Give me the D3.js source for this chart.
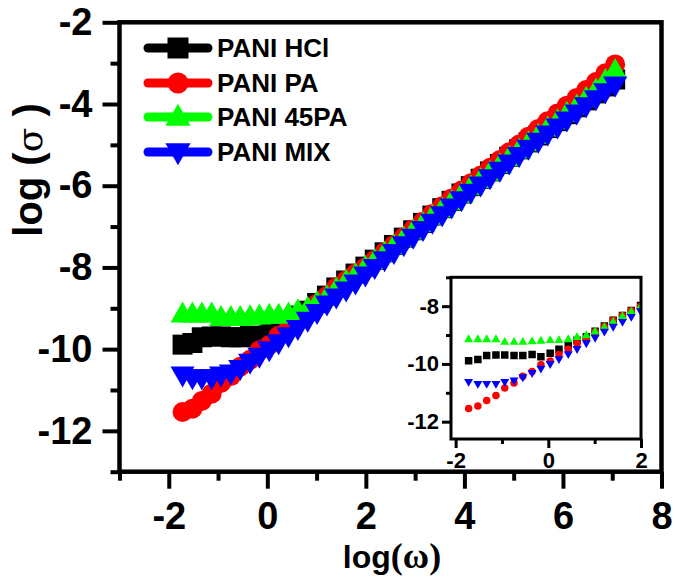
<!DOCTYPE html>
<html>
<head>
<meta charset="utf-8">
<script src="https://cdn.jsdelivr.net/npm/d3@7"></script>
<style>
  html, body { margin: 0; padding: 0; background: #fff; }
  svg { display: block; font-family: "Liberation Sans", Arial, sans-serif; font-weight: bold; }
</style>
</head>
<body>
<svg id="chart" width="675" height="581"></svg>
<script>
// log(omega) values shared by all four samples
const logW = [-1.72, -1.52, -1.33, -1.13, -0.94, -0.74, -0.55, -0.35, -0.16, 0.04,
  0.23, 0.43, 0.62, 0.82, 1.01, 1.21, 1.40, 1.60, 1.79, 1.99,
  2.18, 2.38, 2.57, 2.77, 2.96, 3.16, 3.35, 3.55, 3.74, 3.94,
  4.13, 4.33, 4.52, 4.72, 4.91, 5.11, 5.30, 5.50, 5.69, 5.89,
  6.08, 6.28, 6.47, 6.67, 6.86, 7.06];

const hcl = [-9.89, -9.85, -9.71, -9.69, -9.69, -9.71, -9.71, -9.67, -9.75, -9.63,
  -9.49, -9.35, -9.18, -9.06, -8.87, -8.69, -8.49, -8.32, -8.15, -7.98,
  -7.81, -7.63, -7.45, -7.27, -7.09, -6.91, -6.73, -6.55, -6.37, -6.19,
  -6.01, -5.83, -5.65, -5.47, -5.29, -5.11, -4.94, -4.77, -4.59, -4.42,
  -4.25, -4.08, -3.91, -3.74, -3.57, -3.40];

const pa = [-11.54, -11.46, -11.27, -11.09, -10.83, -10.66, -10.43, -10.26, -10.03, -9.90,
  -9.67, -9.49, -9.29, -9.14, -8.89, -8.70, -8.49, -8.32, -8.15, -8.00,
  -7.82, -7.63, -7.45, -7.26, -7.07, -6.88, -6.69, -6.50, -6.31, -6.12,
  -5.94, -5.75, -5.56, -5.37, -5.18, -4.99, -4.80, -4.61, -4.42, -4.23,
  -4.04, -3.85, -3.66, -3.46, -3.25, -3.03];

const pa45 = [-9.14, -9.14, -9.14, -9.14, -9.23, -9.23, -9.23, -9.21, -9.19, -9.17,
  -9.17, -9.14, -9.06, -9.00, -8.87, -8.72, -8.53, -8.34, -8.18, -8.00,
  -7.83, -7.65, -7.47, -7.29, -7.11, -6.93, -6.75, -6.57, -6.39, -6.21,
  -6.03, -5.85, -5.67, -5.49, -5.31, -5.13, -4.95, -4.77, -4.59, -4.41,
  -4.23, -4.05, -3.86, -3.66, -3.43, -3.18];

const mix = [-10.63, -10.70, -10.70, -10.70, -10.63, -10.58, -10.47, -10.32, -10.17, -10.01,
  -9.84, -9.67, -9.49, -9.29, -9.10, -8.89, -8.72, -8.55, -8.38, -8.18,
  -8.00, -7.81, -7.63, -7.44, -7.26, -7.07, -6.89, -6.71, -6.52, -6.34,
  -6.16, -5.98, -5.80, -5.62, -5.44, -5.26, -5.08, -4.91, -4.73, -4.56,
  -4.39, -4.22, -4.04, -3.87, -3.70, -3.53];

const names = ["PANI HCl", "PANI PA", "PANI 45PA", "PANI MIX"];
const colors = ["#000000", "#ff0000", "#00ff00", "#0000ff"];
const shapes = ["square", "circle", "up", "down"];
const series = [hcl, pa, pa45, mix];

const xTicks = [-2, 0, 2, 4, 6, 8];
const xMinor = [-3, -1, 1, 3, 5, 7];
const yTicks = [-12, -10, -8, -6, -4, -2];
const yMinor = [-13, -11, -9, -7, -5, -3];
const insetXTicks = [-2, 0, 2];
const insetXMinor = [-1, 1];
const insetYTicks = [-12, -10, -8];
const insetYMinor = [-11, -9, -7];

const svg = d3.select("#chart");

function marker(shape, s) {
  // s = overall marker width in px
  if (shape === "square") return `M${-s / 2},${-s / 2}h${s}v${s}h${-s}Z`;
  if (shape === "circle") return d3.symbol(d3.symbolCircle, Math.PI * s * s / 4)();
  const w = s * 1.2, h = s * 1.05;
  if (shape === "up") return `M0,${-h * 0.6}L${w / 2},${h * 0.4}L${-w / 2},${h * 0.4}Z`;
  return `M0,${h * 0.6}L${w / 2},${-h * 0.4}L${-w / 2},${-h * 0.4}Z`;
}

function panel(g, o) {
  const x = d3.scaleLinear().domain(o.xDomain).range([o.left, o.right]);
  const y = d3.scaleLinear().domain(o.yDomain).range([o.bottom, o.top]);

  const xAxis = d3.axisBottom(x).tickValues(o.xTicks).tickSize(o.major).tickPadding(o.padX)
    .tickFormat((d) => String(d));
  const xAxisMinor = d3.axisBottom(x).tickValues(o.xMinor).tickSize(o.minor).tickFormat("");
  const yAxis = d3.axisLeft(y).tickValues(o.yTicks).tickSize(o.major).tickPadding(o.padY)
    .tickFormat((d) => String(d));
  const yAxisMinor = d3.axisLeft(y).tickValues(o.yMinor).tickSize(o.minor).tickFormat("");

  const style = (a) => {
    a.select(".domain").remove();
    a.selectAll("line").attr("stroke", "#000").attr("stroke-width", o.tickWidth);
    a.selectAll("text").attr("fill", "#000").attr("font-size", o.fontSize)
      .attr("font-family", "'Liberation Sans', Arial, sans-serif").attr("font-weight", "bold");
  };

  g.append("g").attr("transform", `translate(0,${o.bottom})`).call(xAxis).call(style);
  g.append("g").attr("transform", `translate(0,${o.bottom})`).call(xAxisMinor).call(style);
  g.append("g").attr("transform", `translate(${o.left},0)`).call(yAxis).call(style);
  g.append("g").attr("transform", `translate(${o.left},0)`).call(yAxisMinor).call(style);

  const clipId = "clip" + o.id;
  g.append("clipPath").attr("id", clipId).append("rect")
    .attr("x", o.left).attr("y", o.top)
    .attr("width", o.right - o.left).attr("height", o.bottom - o.top);

  const data = g.append("g").attr("clip-path", o.clip ? `url(#${clipId})` : null);
  series.forEach((vals, i) => {
    const pts = logW.map((w, j) => [w, vals[j]])
      .filter((p) => p[0] >= o.xDomain[0] && p[0] <= o.xDomain[1]);
    if (o.line) {
      data.append("path")
        .attr("d", d3.line().x((p) => x(p[0])).y((p) => y(p[1]))(pts))
        .attr("fill", "none").attr("stroke", colors[i]).attr("stroke-width", o.line);
    }
    data.append("g").selectAll("path").data(pts).join("path")
      .attr("transform", (p) => `translate(${x(p[0])},${y(p[1])})`)
      .attr("d", marker(shapes[i], o.size))
      .attr("fill", colors[i]);
  });

  g.append("rect")
    .attr("x", o.left).attr("y", o.top)
    .attr("width", o.right - o.left).attr("height", o.bottom - o.top)
    .attr("fill", "none").attr("stroke", "#000").attr("stroke-width", o.frame);
  return { x, y };
}

// main panel
panel(svg.append("g"), {
  id: "main", xDomain: [-3, 8], yDomain: [-13, -2],
  left: 119.5, right: 661.5, top: 22.3, bottom: 471.7,
  xTicks, xMinor, yTicks, yMinor,
  major: 17, minor: 9, padX: 13, padY: 10, tickWidth: 4, frame: 4.5, fontSize: 38,
  size: 20, line: 4, clip: false
});

// inset
const insetG = svg.append("g");
insetG.append("rect").attr("x", 451).attr("y", 277.3).attr("width", 190).attr("height", 161.7)
  .attr("fill", "#fff");
panel(insetG, {
  id: "inset", xDomain: [-2.1, 2], yDomain: [-12.6, -7],
  left: 451, right: 641, top: 277.3, bottom: 439,
  xTicks: insetXTicks, xMinor: insetXMinor, yTicks: insetYTicks, yMinor: insetYMinor,
  major: 9, minor: 5, padX: 4, padY: 3, tickWidth: 3, frame: 3, fontSize: 22,
  size: 7.5, line: 0, clip: true
});

// legend
const legend = svg.append("g");
const rowY = [48, 83, 117, 152];
names.forEach((n, i) => {
  const row = legend.append("g").attr("transform", `translate(0,${rowY[i]})`);
  row.append("line").attr("x1", 148).attr("x2", 208).attr("y1", 0).attr("y2", 0)
    .attr("stroke", colors[i]).attr("stroke-width", 9).attr("stroke-linecap", "round");
  row.append("path").attr("transform", "translate(178,0)")
    .attr("d", marker(shapes[i], 21)).attr("fill", colors[i]);
  row.append("text").attr("x", 217).attr("y", 0).attr("dy", "0.36em")
    .attr("font-size", 26).text(n);
});

// axis titles (greek letters in a lighter serif face, as in the original)
const xt = svg.append("text").attr("x", 392).attr("y", 568).attr("text-anchor", "middle")
  .attr("font-size", 32);
xt.append("tspan").text("log");
xt.append("tspan").attr("font-family", "'Liberation Serif', serif").attr("font-size", 36).text("(ω)");

const yt = svg.append("text").attr("transform", "translate(42,170) rotate(-90)")
  .attr("text-anchor", "middle").attr("font-size", 40);
yt.append("tspan").text("log (");
yt.append("tspan").attr("font-family", "'DejaVu Serif', serif").attr("font-weight", "normal")
  .attr("font-size", 36).text("σ");
yt.append("tspan").text(" )");
</script>
</body>
</html>
